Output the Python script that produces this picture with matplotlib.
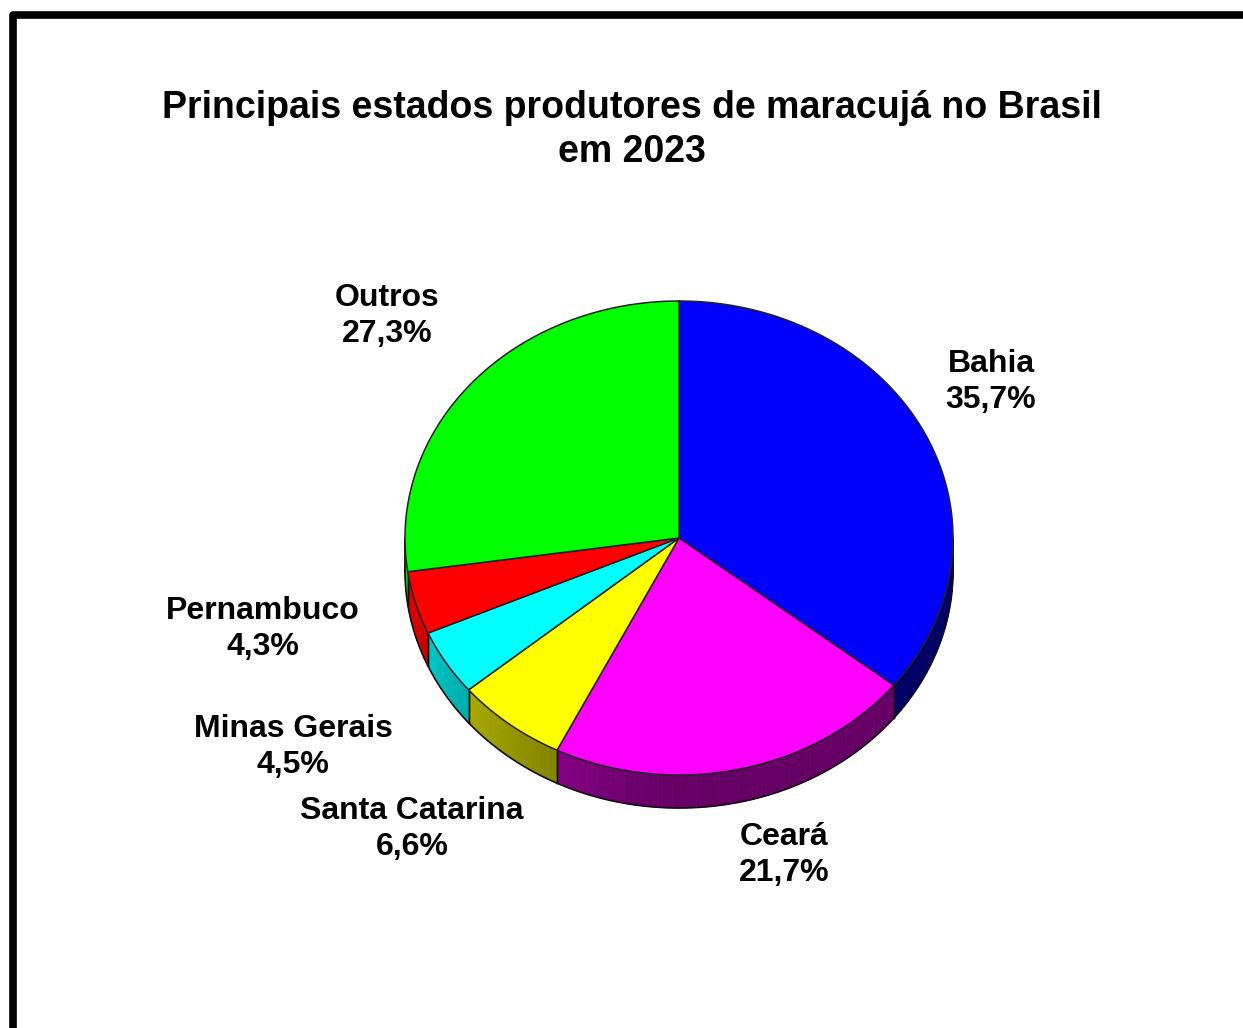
import numpy as np
import matplotlib.pyplot as plt
from matplotlib.patches import Polygon
from matplotlib.colors import to_rgb

estados = ['Bahia', 'Ceará', 'Santa Catarina', 'Minas Gerais', 'Pernambuco', 'Outros']
percentual = [35.7, 21.7, 6.6, 4.5, 4.3, 27.3]
cores = ['#0000ff', '#ff00ff', '#ffff00', '#00ffff', '#ff0000', '#00ff00']

titulo = 'Principais estados produtores de maracujá no Brasil\nem 2023'

# geometria do "3D" (pixels, y para baixo)
cx, cy = 679, 538
rx, ry = 274, 237
prof = 33
pos_rotulos = [(991, 382), (784, 855), (412, 829), (293, 747), (263, 629), (387, 316)]

plt.rcParams['font.family'] = ['Liberation Sans', 'DejaVu Sans']

fig = plt.figure(figsize=(12.43, 10.28), dpi=100)
ax = fig.add_axes([0, 0, 1, 1])
ax.set_xlim(0, 1243)
ax.set_ylim(1028, 0)
ax.axis('off')


def ponto(theta, dy=0):
    # theta em graus, a partir do topo, sentido horário
    t = np.radians(theta)
    return cx + rx * np.sin(t), cy - ry * np.cos(t) + dy


def sombra(t):
    f = 0.4 + 0.45 * max(0.0, (t - 180) / 75) ** 1.3
    return min(f, 0.85)


total = sum(percentual)
angs = np.concatenate([[0], np.cumsum(percentual) / total * 360])

# laterais (só a parte da frente: 90..270 graus)
for i, cor in enumerate(cores):
    a0, a1 = max(angs[i], 90), min(angs[i + 1], 270)
    if a1 <= a0:
        continue
    base = np.array(to_rgb(cor))
    ts = np.linspace(a0, a1, max(int(a1 - a0), 2) + 1)
    for ta, tb in zip(ts[:-1], ts[1:]):
        c = base * sombra((ta + tb) / 2)
        xa, ya = ponto(ta)
        xb, yb = ponto(tb)
        ax.add_patch(Polygon([(xa, ya), (xb, yb), (xb, yb + prof), (xa, ya + prof)],
                             closed=True, facecolor=c, edgecolor=c, lw=0.6, zorder=2))
    xs, ys = ponto(ts)
    ax.plot(xs, ys + prof, color='#111111', lw=1.2, zorder=3)
    for t in (a0, a1):
        if 90 < t < 270:
            x, y = ponto(t)
            ax.plot([x, x], [y, y + prof], color='#111111', lw=1, zorder=3)

# laterais extremas esquerda/direita
for t in (90, 270):
    x, y = ponto(t)
    ax.plot([x, x], [y, y + prof], color='#111111', lw=1.2, zorder=3)

# topo
for i, cor in enumerate(cores):
    ts = np.linspace(angs[i], angs[i + 1], 200)
    xs, ys = ponto(ts)
    pts = [(cx, cy)] + list(zip(xs, ys))
    ax.add_patch(Polygon(pts, closed=True, facecolor=cor, edgecolor='#222222',
                         lw=1.1, zorder=4, joinstyle='round'))

for i, nome in enumerate(estados):
    x, y = pos_rotulos[i]
    txt = f'{nome}\n{percentual[i]:.1f}%'.replace('.', ',')
    ax.text(x, y, txt, ha='center', va='center', fontsize=23, fontweight='bold',
            linespacing=1.3, zorder=5)

ax.text(632, 130, titulo, ha='center', va='center', fontsize=27, fontweight='bold',
        linespacing=1.29)

# moldura
ax.plot([13.5, 13.5, 1243], [1028, 14.5, 14.5], color='black', lw=5.5,
        solid_joinstyle='round', solid_capstyle='butt', zorder=6)

fig.savefig('out.png', dpi=100)
